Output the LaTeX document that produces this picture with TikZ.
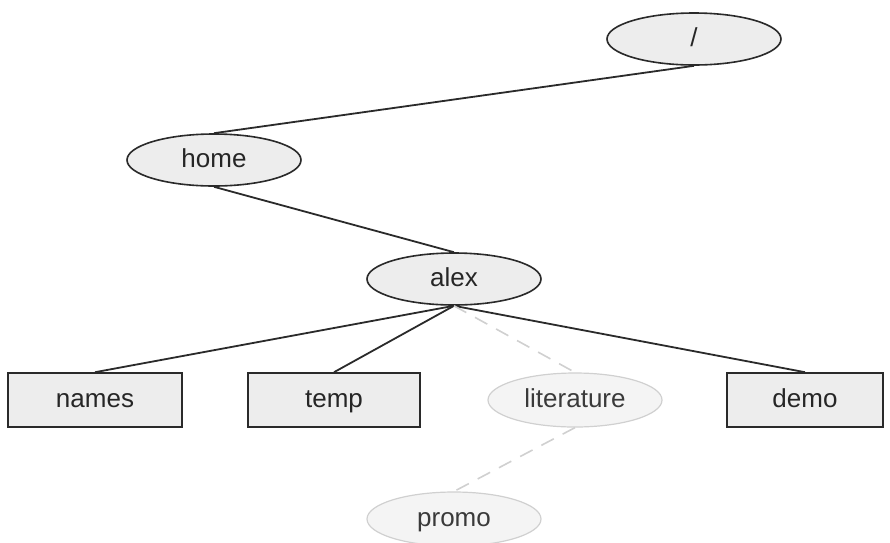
\documentclass[tikz,border=0pt]{standalone}
\usepackage{fontspec}
\setmainfont{Liberation Sans}
\usetikzlibrary{shapes.geometric}
\definecolor{boxfill}{HTML}{EDEDED}
\definecolor{edgecol}{HTML}{2A2A2A}
\definecolor{faint}{HTML}{D0D0D0}
\definecolor{fainttext}{HTML}{3A3A3A}
\tikzset{
  labelfont/.style={font=\fontsize{26}{30}\selectfont, text height=19pt, text depth=5pt},
  dirnode/.style={ellipse, draw=edgecol, line width=1.6pt, fill=boxfill,
    minimum width=174pt, minimum height=52pt, inner sep=0pt,
    labelfont, text=black!85},
  filenode/.style={rectangle, draw=edgecol, line width=1.6pt, fill=boxfill,
    minimum width=174pt, minimum height=54pt, inner sep=0pt,
    labelfont, text=black!85},
  ghostnode/.style={ellipse, draw=faint, line width=1.2pt, fill=boxfill!60,
    minimum width=174pt, minimum height=54pt, inner sep=0pt,
    labelfont, text=fainttext},
  link/.style={draw=edgecol, line width=1.8pt},
  ghostlink/.style={draw=faint, line width=1.6pt, dash pattern=on 14pt off 10pt}
}
\begin{document}
\begin{tikzpicture}[x=1pt,y=-1pt]
\useasboundingbox (0,0) rectangle (890,542);
\node[dirnode] (root) at (694,39) {/};
\node[dirnode] (home) at (214,160) {home};
\node[dirnode] (alex) at (454,279) {alex};
\node[filenode, minimum width=174pt] (names) at (95,400) {names};
\node[filenode, minimum width=172pt] (temp) at (334,400) {temp};
\node[ghostnode] (lit) at (575,400) {literature};
\node[filenode, minimum width=156pt] (demo) at (805,400) {demo};
\node[ghostnode] (promo) at (454,519) {promo};
\draw[link] (root.south) -- (home.north);
\draw[link] (home.south) -- (alex.north);
\draw[link] (alex.south) -- (names.north);
\draw[link] (alex.south) -- (temp.north);
\draw[link] (alex.south) -- (demo.north);
\draw[ghostlink] (alex.south) -- (lit.north);
\draw[ghostlink] (lit.south) -- (promo.north);
\end{tikzpicture}
\end{document}
